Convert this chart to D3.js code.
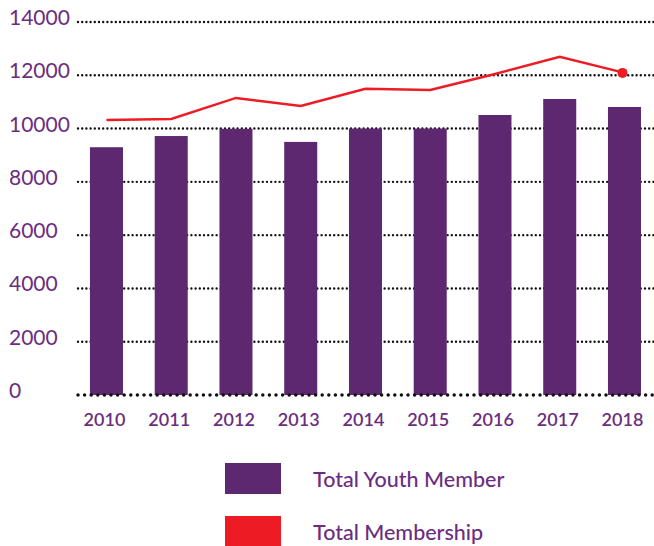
<!DOCTYPE html>
<html>
<head>
<meta charset="utf-8">
<script src="https://cdn.jsdelivr.net/npm/d3@7"></script>
<style>
  html, body { margin: 0; padding: 0; background: #fff; }
  svg { display: block; font-family: "Lato", "Noto Sans", sans-serif; }
</style>
</head>
<body>
<svg id="chart" width="654" height="546"></svg>
<script>
const years = ["2010","2011","2012","2013","2014","2015","2016","2017","2018"];
const youthMembers = [9300, 9720, 9990, 9500, 10000, 10000, 10510, 11110, 10810];
const totalMembership = [10320, 10360, 11150, 10850, 11490, 11450, 12050, 12690, 12090];
const yTicks = [0, 2000, 4000, 6000, 8000, 10000, 12000, 14000];
const legendLabels = ["Total Youth Member", "Total Membership"];

const purple = "#5e2870";
const textPurple = "#6b2d80";
const red = "#ed1c24";

const svg = d3.select("#chart");

const x = d3.scaleBand()
  .domain(years)
  .range([74.1, 74.1 + 9 * 64.75])
  .paddingInner(0.49)
  .paddingOuter(0.245);

const y = d3.scaleLinear().domain([0, 14000]).range([395, 22]);

// Gridlines (dotted)
svg.append("g").selectAll("line.grid")
  .data(yTicks.filter(d => d !== 0))
  .join("line")
  .attr("class", "grid")
  .attr("x1", 78).attr("x2", 654)
  .attr("y1", d => y(d)).attr("y2", d => y(d))
  .attr("stroke", "#111")
  .attr("stroke-width", 2.4)
  .attr("stroke-linecap", "round")
  .attr("stroke-dasharray", "0,4.2");

// Y tick labels
svg.append("g").selectAll("text")
  .data(yTicks)
  .join("text")
  .attr("x", 9)
  .attr("y", d => y(d) + 3)
  .attr("fill", textPurple)
  .attr("font-size", 21)
  .text(d => d);

// Bars
svg.append("g").selectAll("rect")
  .data(years.map((yr, i) => ({ yr, v: youthMembers[i] })))
  .join("rect")
  .attr("x", d => x(d.yr))
  .attr("width", x.bandwidth())
  .attr("y", d => y(d.v))
  .attr("height", d => y(0) - y(d.v))
  .attr("fill", purple);

// Baseline (bigger dots)
svg.append("line")
  .attr("x1", 78).attr("x2", 654)
  .attr("y1", y(0)).attr("y2", y(0))
  .attr("stroke", "#111")
  .attr("stroke-width", 3.5)
  .attr("stroke-linecap", "round")
  .attr("stroke-dasharray", "0,6.6");

// X labels
svg.append("g").selectAll("text")
  .data(years)
  .join("text")
  .attr("x", d => x(d) + x.bandwidth() / 2 - 2)
  .attr("y", 426)
  .attr("text-anchor", "middle")
  .attr("fill", textPurple)
  .attr("font-size", 18)
  .attr("font-weight", 600)
  .text(d => d);

// Line
const lineData = years.map((yr, i) => ({ yr, v: totalMembership[i] }));
const line = d3.line()
  .x(d => x(d.yr) + x.bandwidth() / 2)
  .y(d => y(d.v));
svg.append("path")
  .datum(lineData)
  .attr("d", line)
  .attr("fill", "none")
  .attr("stroke", red)
  .attr("stroke-width", 2.5);

const last = lineData[lineData.length - 1];
svg.append("circle")
  .attr("cx", x(last.yr) + x.bandwidth() / 2 - 2)
  .attr("cy", y(last.v))
  .attr("r", 5)
  .attr("fill", red);

// Legend
const legend = svg.append("g");
const legendColors = [purple, red];
legendLabels.forEach((lab, i) => {
  const gy = 463 + i * 53;
  legend.append("rect")
    .attr("x", 225).attr("y", gy)
    .attr("width", 56).attr("height", 31)
    .attr("fill", legendColors[i]);
  legend.append("text")
    .attr("x", 313).attr("y", gy + 24)
    .attr("fill", textPurple)
    .attr("font-size", 21.5)
    .attr("font-weight", 500)
    .text(lab);
});
</script>
</body>
</html>
